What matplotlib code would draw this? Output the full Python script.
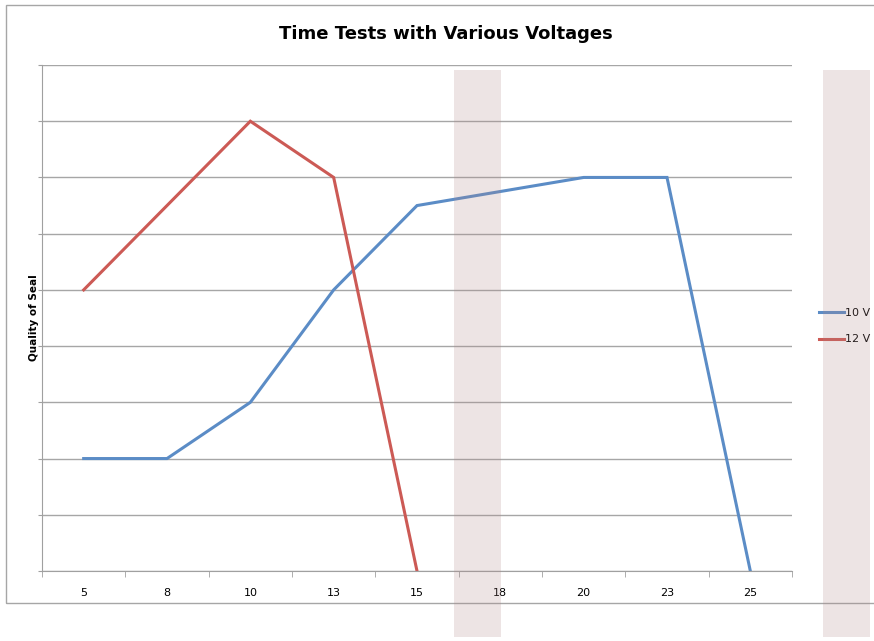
import matplotlib.pyplot as plt
from matplotlib.patches import Rectangle

# Data (quality of seal, grid units)
times = ["5", "8", "10", "13", "15", "18", "20", "23", "25"]
v10 = [2, 2, 3, 5, 6.5, 6.75, 7, 7, 0]
v12 = [5, 6.5, 8, 7, 0]

W, H = 874, 641
fig = plt.figure(figsize=(W / 100, H / 100), dpi=100)

def px(x0, y0, x1, y1):
    # convert pixel box (top-left origin) to figure fraction rect
    return [x0 / W, 1 - y1 / H, (x1 - x0) / W, (y1 - y0) / H]

# outer chart border
b = px(6, 5, 880, 603)
fig.patches.append(Rectangle((b[0], b[1]), b[2], b[3], transform=fig.transFigure,
                             fill=False, edgecolor="#a6a6a6", lw=1.0, zorder=0))

ax = fig.add_axes(px(42, 65, 792, 571))
x = list(range(len(times)))
ax.plot(x, v10, color="#5b8cc6", lw=2.2, label="10 V", solid_joinstyle="miter")
ax.plot(x[:len(v12)], v12, color="#cc5a55", lw=2.2, label="12 V", solid_joinstyle="miter")

ax.set_xlim(-0.5, len(times) - 0.5)
ax.set_ylim(0, 9)
ax.set_yticks(range(10))
ax.set_yticklabels([])
ax.set_xticks(x)
ax.set_xticklabels(times, fontsize=8)
ax.tick_params(axis="x", length=0, pad=12)
ax.set_xticks([i - 0.5 for i in range(len(times) + 1)], minor=True)
ax.tick_params(axis="x", which="minor", length=4, color="#a0a0a0", direction="out")
ax.tick_params(axis="y", length=3, color="#a0a0a0", direction="out")
ax.grid(axis="y", color="#a6a6a6", lw=1.0)
ax.set_axisbelow(True)
for s in ["top", "right"]:
    ax.spines[s].set_visible(False)
for s in ["left", "bottom"]:
    ax.spines[s].set_color("#a0a0a0")
ax.set_ylabel("Quality of Seal", fontsize=7.5, fontweight="bold", labelpad=-4)

fig.text(446 / W, 1 - 34 / H, "Time Tests with Various Voltages", ha="center", va="center",
         fontsize=13, fontweight="bold")

ax.legend(loc="center left", bbox_to_anchor=(1.022, 0.484), frameon=False, fontsize=8,
          handlelength=2.3, handletextpad=0.1, labelspacing=1.5)

# translucent pinkish vertical bands over the picture
for x0, x1 in [(454, 501), (823, 870)]:
    r = px(x0, 70, x1, 637)
    fig.patches.append(Rectangle((r[0], r[1]), r[2], r[3], transform=fig.transFigure,
                                 facecolor=(175 / 255, 135 / 255, 135 / 255), alpha=0.22,
                                 edgecolor="none", zorder=10))

fig.savefig("out.png", dpi=100)
